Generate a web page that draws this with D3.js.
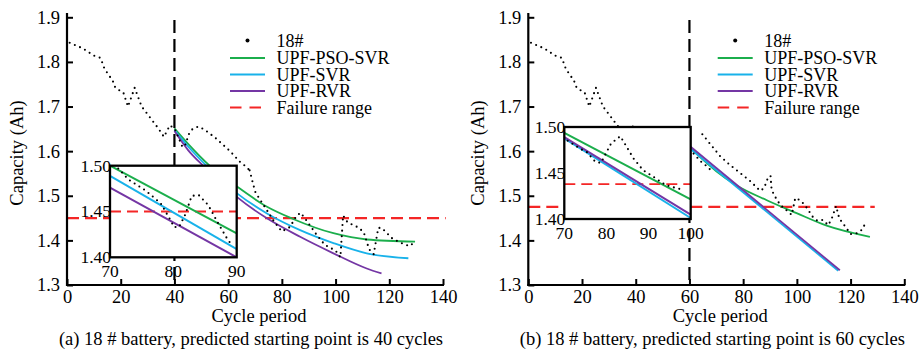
<html>
<head>
<style>
  body { margin: 0; background: #fff; }
</style>
</head>
<body>
<script src="https://d3js.org/d3.v7.min.js"></script>
<script>

// tick values
var xTicks = [0, 20, 40, 60, 80, 100, 120, 140];
var yTicks = [1.3, 1.4, 1.5, 1.6, 1.7, 1.8, 1.9];
var insetXTicksA = [70, 80, 90];
var insetXTicksB = [70, 80, 90, 100];
var insetYTicks = [1.40, 1.45, 1.50];
var legendNames = ["18#", "UPF-PSO-SVR", "UPF-SVR", "UPF-RVR", "Failure range"];

// battery 18# capacity [cycle, Ah]
var capHead = [[1,1.843],[6,1.830],[10,1.814],[12.5,1.809],[14,1.784],[17,1.758],[18,1.742],[21,1.731],
  [22.7,1.700],[25.2,1.742],[27.8,1.700],[34,1.651],[36.1,1.632],[38.3,1.658],[40.1,1.650],[41.4,1.632],
  [43,1.609],[43.9,1.612],[45.5,1.640],[46.8,1.650],[48.9,1.655],[51,1.649],[55,1.631],[60.7,1.600],
  [64.4,1.576],[66.5,1.566],[68,1.557]];
var capTailA = [[68,1.557],[69.4,1.524],[70.2,1.507],[74.4,1.468],[77.1,1.442],[80,1.420],[83,1.430],
  [85.5,1.455],[87,1.462],[89,1.446],[93,1.412],[96,1.390],[100,1.377],[101.8,1.362],[102.8,1.456],
  [104.5,1.440],[108.5,1.429],[110.5,1.418],[112.5,1.380],[114.2,1.369],[115.9,1.428],[117.2,1.428],
  [121,1.405],[124,1.395],[127.5,1.387],[129.6,1.397]];
var capTailB = [[64.8,1.638],[68,1.614],[71.4,1.589],[75.1,1.569],[79.1,1.550],[82.8,1.532],[86.3,1.511],
  [87.8,1.517],[89.4,1.543],[90.2,1.544],[90.6,1.513],[92.7,1.489],[94.3,1.477],[98.1,1.457],[99.4,1.495],
  [101.2,1.490],[103,1.479],[105.9,1.453],[107.6,1.444],[109.6,1.446],[111.7,1.434],[113,1.449],
  [114.6,1.477],[115.8,1.449],[118.5,1.427],[120,1.414],[122.3,1.416],[124.5,1.425],[125.4,1.438]];

// predictions, start at 40 cycles
var psoA = [[40,1.651],[45,1.617],[53.2,1.567],[63.2,1.521],[74.3,1.476],[84.2,1.448],[99.2,1.416],[111.6,1.402],[129.6,1.397]];
var svrA = [[40,1.647],[45,1.611],[52,1.567],[63.2,1.506],[74.3,1.461],[86.8,1.423],[99.2,1.394],[111.6,1.371],[127.1,1.360]];
var rvrA = [[40,1.645],[45,1.603],[51.1,1.565],[63.1,1.498],[74.3,1.450],[86.8,1.408],[99.2,1.371],[111.6,1.337],[117.1,1.326]];
// predictions, start at 60 cycles
var psoB = [[60,1.609],[65,1.581],[70,1.555],[77.6,1.523],[88.8,1.490],[99.9,1.461],[111.1,1.433],[127.2,1.408]];
var svrB = [[60,1.607],[115.4,1.332]];
var rvrB = [[60,1.612],[116,1.333]];

// zoomed insets
var insetDotsA = [[71.3,1.497],[72.9,1.485],[75.6,1.473],[78,1.459],[79.6,1.440],[80.1,1.433],[80.9,1.433],
  [81.9,1.447],[82.9,1.467],[84,1.468],[85.5,1.457],[87,1.438],[88.6,1.419],[89.3,1.413]];
var insetPsoA = [[70,1.500],[90,1.426]];
var insetSvrA = [[70,1.489],[90,1.409]];
var insetRvrA = [[70,1.476],[90,1.400]];
var insetDotsB = [[70.8,1.485],[73.9,1.476],[75.3,1.473],[77.4,1.462],[78.7,1.461],[81.1,1.482],[83.3,1.490],
  [86.4,1.466],[88.7,1.453],[91.1,1.446],[94,1.437],[97,1.433],[98.4,1.432]];
var insetPsoB = [[70,1.4937],[100,1.4213]];
var insetSvrB = [[70,1.4876],[100,1.4011]];
var insetRvrB = [[70,1.489],[100,1.4048]];

var failA = 1.45, failB = 1.475;
var insetFailA = 1.45, insetFailB = 1.438;

var colors = { pso: "#1bae4c", svr: "#18b2ea", rvr: "#7436a4", fail: "#f42626" };
var font = "'Liberation Serif', 'Times New Roman', serif";

var svg = d3.select("body").append("svg")
    .attr("width", 921)
    .attr("height", 352);

function drawPanel(p) {
    var g = svg.append("g");
    var x = d3.scaleLinear().domain([0, 140]).range([p.left, p.left + 376]);
    var y = d3.scaleLinear().domain([1.3, 1.9]).range([285, 17.3]);
    var straight = d3.line().x(d => x(d[0])).y(d => y(d[1]));
    var smooth = d3.line().curve(d3.curveMonotoneX).x(d => x(d[0])).y(d => y(d[1]));

    // failure threshold
    g.append("line")
        .attr("x1", x(0)).attr("x2", x(p.failEnd))
        .attr("y1", y(p.fail)).attr("y2", y(p.fail))
        .attr("stroke", colors.fail).attr("stroke-width", 2.2)
        .attr("stroke-dasharray", "12 6");

    // predictions
    [[p.pso, colors.pso], [p.svr, colors.svr], [p.rvr, colors.rvr]].forEach(function(s) {
        g.append("path").attr("d", smooth(s[0]))
            .attr("fill", "none").attr("stroke", s[1]).attr("stroke-width", 1.8);
    });

    // measured capacity (dotted)
    p.data.forEach(function(seg) {
        g.append("path").attr("d", straight(seg))
            .attr("fill", "none").attr("stroke", "#000").attr("stroke-width", 2.1)
            .attr("stroke-linecap", "round").attr("stroke-dasharray", "0 5.6");
    });

    // prediction start
    g.append("line")
        .attr("x1", x(p.start)).attr("x2", x(p.start))
        .attr("y1", 20).attr("y2", 285)
        .attr("stroke", "#000").attr("stroke-width", 2.2)
        .attr("stroke-dasharray", "13 6");

    // inset
    var b = p.box;
    var ix = d3.scaleLinear().domain(p.insetX).range([b[0], b[1]]);
    var iy = d3.scaleLinear().domain([1.40, 1.50]).range([b[3], b[2]]);
    var iline = d3.line().x(d => ix(d[0])).y(d => iy(d[1]));
    var ig = g.append("g");
    ig.append("rect").attr("x", b[0]).attr("y", b[2])
        .attr("width", b[1] - b[0]).attr("height", b[3] - b[2]).attr("fill", "#fff");
    ig.append("line")
        .attr("x1", b[0]).attr("x2", b[1])
        .attr("y1", iy(p.insetFail)).attr("y2", iy(p.insetFail))
        .attr("stroke", colors.fail).attr("stroke-width", 1.8)
        .attr("stroke-dasharray", "11 6");
    [[p.ipso, colors.pso], [p.isvr, colors.svr], [p.irvr, colors.rvr]].forEach(function(s) {
        ig.append("path").attr("d", iline(s[0]))
            .attr("fill", "none").attr("stroke", s[1]).attr("stroke-width", 2);
    });
    ig.append("path").attr("d", iline(p.idots))
        .attr("fill", "none").attr("stroke", "#000").attr("stroke-width", 2.1)
        .attr("stroke-linecap", "round").attr("stroke-dasharray", "0 5.6");
    ig.append("rect").attr("x", b[0]).attr("y", b[2])
        .attr("width", b[1] - b[0]).attr("height", b[3] - b[2])
        .attr("fill", "none").attr("stroke", "#000").attr("stroke-width", 2.3);
    ig.selectAll(".iyl").data(insetYTicks).enter().append("text")
        .attr("x", b[0] + 1).attr("y", d => iy(d)).attr("dy", "0.34em")
        .attr("text-anchor", "end").attr("font-family", font).attr("font-size", 17.5)
        .text(d => d.toFixed(2));
    ig.selectAll(".ixl").data(p.insetTicks).enter().append("text")
        .attr("x", d => ix(d)).attr("y", b[3] + 20)
        .attr("text-anchor", "middle").attr("font-family", font).attr("font-size", 17.5)
        .text(d => d);

    // axes
    var ya = g.append("g").attr("transform", "translate(" + p.left + ",0)")
        .call(d3.axisLeft(y).tickValues(yTicks).tickSize(-6).tickPadding(7).tickFormat(d3.format(".1f")));
    var xa = g.append("g").attr("transform", "translate(0,285)")
        .call(d3.axisBottom(x).tickValues(xTicks).tickSize(-6).tickPadding(5));
    [ya, xa].forEach(function(a) {
        a.select(".domain").remove();
        a.selectAll("line").attr("stroke-width", 2);
        a.selectAll("text").attr("font-family", font).attr("font-size", 18.5).attr("fill", "#000");
    });
    g.append("line").attr("x1", p.left).attr("x2", p.left).attr("y1", 13).attr("y2", 286)
        .attr("stroke", "#000").attr("stroke-width", 2.2);
    g.append("line").attr("x1", p.left - 1).attr("x2", p.left + 377).attr("y1", 285).attr("y2", 285)
        .attr("stroke", "#000").attr("stroke-width", 2.2);

    // titles
    g.append("text").attr("transform", "translate(" + (p.left - 44) + ",153) rotate(-90)")
        .attr("text-anchor", "middle").attr("font-family", font).attr("font-size", 18.5)
        .text("Capacity (Ah)");
    g.append("text").attr("x", p.left + 192).attr("y", 322)
        .attr("text-anchor", "middle").attr("font-family", font).attr("font-size", 18.5)
        .text("Cycle period");
    g.append("text").attr("x", p.left + 184).attr("y", 345)
        .attr("text-anchor", "middle").attr("font-family", font).attr("font-size", 18.5)
        .text(p.caption);

    // legend
    var rows = [40.5, 58, 74.5, 91, 107.5];
    var lg = g.append("g");
    lg.append("circle").attr("cx", p.legX + 17.5).attr("cy", rows[0]).attr("r", 2);
    [colors.pso, colors.svr, colors.rvr].forEach(function(c, i) {
        lg.append("line").attr("x1", p.legX).attr("x2", p.legX + 35)
            .attr("y1", rows[i + 1]).attr("y2", rows[i + 1])
            .attr("stroke", c).attr("stroke-width", 2);
    });
    lg.append("line").attr("x1", p.legX).attr("x2", p.legX + 35)
        .attr("y1", rows[4]).attr("y2", rows[4])
        .attr("stroke", colors.fail).attr("stroke-width", 2).attr("stroke-dasharray", "11.5 8");
    lg.selectAll("text").data(legendNames).enter().append("text")
        .attr("x", p.legX + 46.5).attr("y", (d, i) => rows[i] + 6)
        .attr("font-family", font).attr("font-size", 18)
        .text(d => d);
}

drawPanel({
    left: 67, legX: 230, start: 40, fail: failA, failEnd: 141,
    data: [capHead, capTailA], pso: psoA, svr: svrA, rvr: rvrA,
    box: [110, 236.7, 165.7, 257.3], insetX: [70, 90], insetTicks: insetXTicksA,
    insetFail: insetFailA, idots: insetDotsA, ipso: insetPsoA, isvr: insetSvrA, irvr: insetRvrA,
    caption: "(a) 18 # battery, predicted starting point is 40 cycles"
});

drawPanel({
    left: 528.3, legX: 717.7, start: 60, fail: failB, failEnd: 129,
    data: [capHead, capTailB], pso: psoB, svr: svrB, rvr: rvrB,
    box: [564.3, 690.7, 127, 219], insetX: [70, 100], insetTicks: insetXTicksB,
    insetFail: insetFailB, idots: insetDotsB, ipso: insetPsoB, isvr: insetSvrB, irvr: insetRvrB,
    caption: "(b) 18 # battery, predicted starting point is 60 cycles"
});

</script>
</body>
</html>
